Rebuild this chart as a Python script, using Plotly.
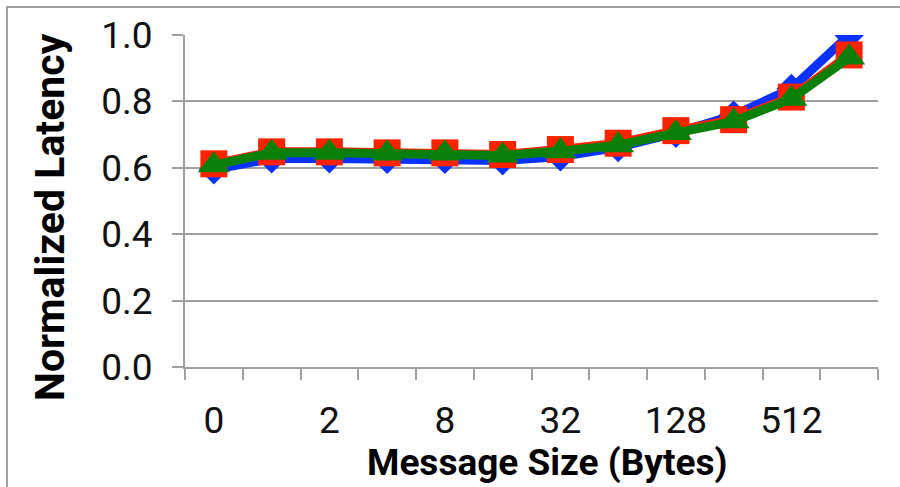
import plotly.graph_objects as go

sizes = ["0", "1", "2", "4", "8", "16", "32", "64", "128", "256", "512", "1024"]
shown_labels = ["0", "2", "8", "32", "128", "512"]
blue_vals = [0.595, 0.628, 0.628, 0.626, 0.626, 0.622, 0.634, 0.662, 0.705, 0.758, 0.838, 1.0]
red_vals = [0.612, 0.648, 0.648, 0.645, 0.645, 0.640, 0.655, 0.674, 0.712, 0.745, 0.813, 0.940]
green_vals = [0.608, 0.645, 0.645, 0.643, 0.643, 0.637, 0.650, 0.668, 0.705, 0.740, 0.808, 0.932]

pos = list(range(len(sizes)))
label_pos = [sizes.index(s) for s in shown_labels]
boundaries = [p - 0.5 for p in pos] + [pos[-1] + 0.5]

W, H = 900, 487
L, T, PW, PH = 185, 35, 693, 332
R = W - L - PW
B = H - T - PH

def px(xp):  # page x -> paper x
    return (xp - L) / PW

def py(yp):  # page y -> paper y
    return 1 - (yp - T) / PH

GRID = "#A0A0A0"
fig = go.Figure()
fig.add_trace(go.Scatter(x=pos, y=blue_vals, mode="lines+markers",
                         line=dict(color="#0A32FF", width=9),
                         marker=dict(symbol="diamond", size=23, color="#0A32FF"),
                         name="A"))
fig.add_trace(go.Scatter(x=pos, y=red_vals, mode="lines+markers",
                         line=dict(color="#FF2200", width=9),
                         marker=dict(symbol="square", size=27, color="#FF2200"),
                         name="B"))
fig.add_trace(go.Scatter(x=pos, y=green_vals, mode="lines+markers",
                         line=dict(color="#0A800A", width=9),
                         marker=dict(symbol="triangle-up", size=28, color="#0A800A",
                                     line=dict(width=0)),
                         name="C"))

tick_font = dict(family="Roboto", size=37, color="#111111")
fig.update_layout(
    width=W, height=H,
    margin=dict(l=L, r=R, t=T, b=B),
    paper_bgcolor="white", plot_bgcolor="white",
    showlegend=False,
    xaxis=dict(range=[-0.5, len(sizes) - 0.5], tickvals=label_pos, ticktext=shown_labels,
               ticks="", showgrid=False, zeroline=False,
               showline=True, linecolor=GRID, linewidth=2,
               tickfont=tick_font, ticklabelstandoff=20,
               minor=dict(tickvals=boundaries, ticks="outside", ticklen=11,
                          tickcolor=GRID, tickwidth=2, showgrid=False)),
    yaxis=dict(range=[0, 1.0], dtick=0.2, tickformat=".1f",
               ticks="outside", ticklen=11, tickcolor=GRID, tickwidth=2,
               showgrid=True, gridcolor=GRID, gridwidth=2, zeroline=False,
               showline=True, linecolor=GRID, linewidth=2,
               tickfont=tick_font, ticklabelstandoff=12),
    annotations=[
        dict(text="<b>Message Size (Bytes)</b>", xref="paper", yref="paper",
             x=px(547), y=py(462), showarrow=False,
             xanchor="center", yanchor="middle",
             font=dict(family="Roboto", size=37, color="black")),
        dict(text="<b>Normalized Latency</b>", xref="paper", yref="paper",
             x=px(50), y=py(217), showarrow=False, textangle=-90,
             xanchor="center", yanchor="middle",
             font=dict(family="Roboto", size=41, color="black")),
    ],
    shapes=[dict(type="rect", xref="paper", yref="paper",
                 x0=px(7), x1=px(940), y0=py(540), y1=py(7),
                 line=dict(color=GRID, width=2), layer="below")],
)
fig.write_html("out.html", config={"displayModeBar": False},
               post_script="document.body.style.margin='0';document.body.style.overflow='hidden';")
